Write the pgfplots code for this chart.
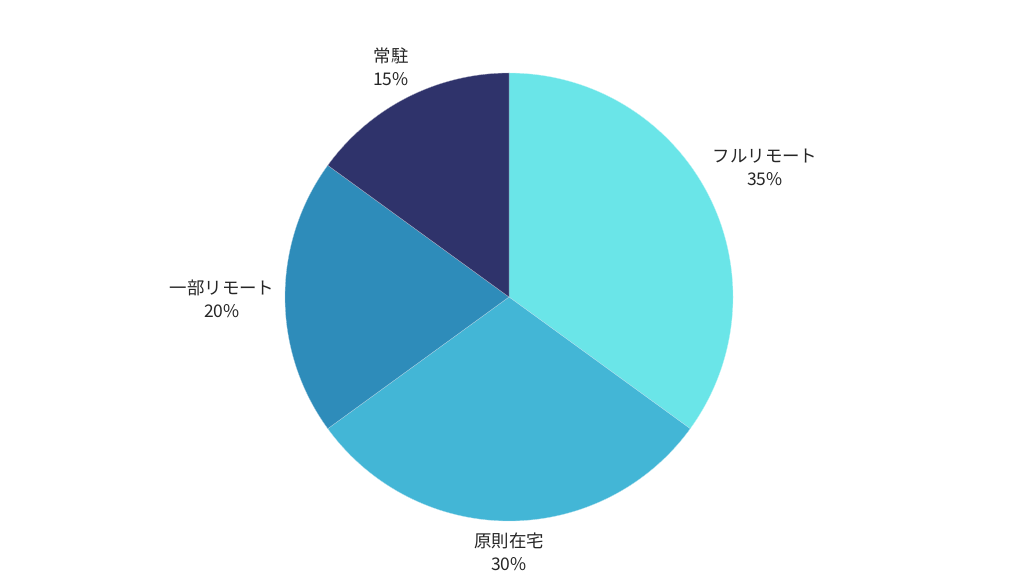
\documentclass[border=0pt]{standalone}
\usepackage{pgfplots}
\usepackage{pgfplotstable}
\pgfplotsset{compat=1.18}
\usepackage{fontspec}
\setmainfont{Noto Sans CJK JP}

\definecolor{col0}{HTML}{6AE5E8}
\definecolor{col1}{HTML}{43B6D6}
\definecolor{col2}{HTML}{2E8CBA}
\definecolor{col3}{HTML}{2F336B}

% slices clockwise from 12 o'clock; lx, ly = label centre
\pgfplotstableread{
label          value  lx   ly
フルリモート    35     765  409
原則在宅        30     509  24
一部リモート    20     222  277
常駐            15     391  509
}\piedata

\xdef\cumangle{90}
\pgfplotsforeachungrouped \i in {0,1,2,3}{%
  \pgfplotstablegetelem{\i}{value}\of\piedata
  \expandafter\xdef\csname pv\i\endcsname{\pgfplotsretval}%
  \pgfmathsetmacro\endA{\cumangle-3.6*\pgfplotsretval}%
  \expandafter\xdef\csname sa\i\endcsname{\cumangle}%
  \expandafter\xdef\csname ea\i\endcsname{\endA}%
  \xdef\cumangle{\endA}%
  \pgfplotstablegetelem{\i}{label}\of\piedata
  \expandafter\xdef\csname lb\i\endcsname{\pgfplotsretval}%
  \pgfplotstablegetelem{\i}{lx}\of\piedata
  \expandafter\xdef\csname lx\i\endcsname{\pgfplotsretval}%
  \pgfplotstablegetelem{\i}{ly}\of\piedata
  \expandafter\xdef\csname ly\i\endcsname{\pgfplotsretval}%
}

\begin{document}
\begin{tikzpicture}
\begin{axis}[
    width=1024bp, height=576bp,
    scale only axis,
    xmin=0, xmax=1024, ymin=0, ymax=576,
    hide axis,
    clip=false]
  \pgfplotsinvokeforeach{0,1,2,3}{
    \fill[col#1, draw=white!60!col#1, line width=0.3pt]
      (axis cs:509,279) -- ++(\csname sa#1\endcsname:224bp)
      arc[start angle=\csname sa#1\endcsname, end angle=\csname ea#1\endcsname, radius=224bp]
      -- cycle;
    \node[align=center, font=\fontsize{17.5}{23}\selectfont, text=black!85]
      at (axis cs:\csname lx#1\endcsname,\csname ly#1\endcsname)
      {\csname lb#1\endcsname\\\csname pv#1\endcsname\%};
  }
\end{axis}
\pgfresetboundingbox
\path (current axis.south west) rectangle (current axis.north east);
\end{tikzpicture}
\end{document}
